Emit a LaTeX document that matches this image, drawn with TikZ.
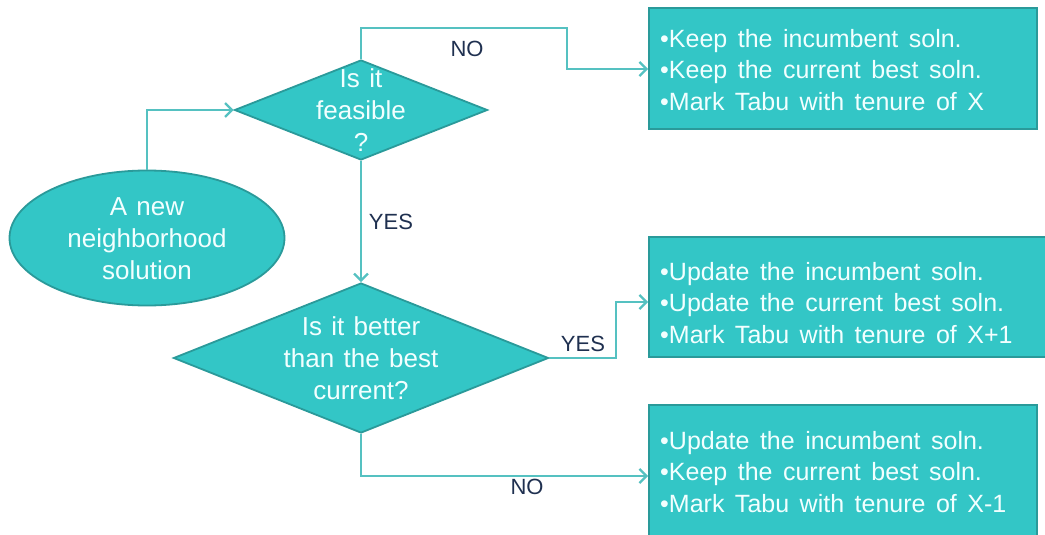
\documentclass[tikz,border=0pt]{standalone}
\usepackage{fontspec}
\setmainfont{Liberation Sans}
\usetikzlibrary{shapes.geometric,arrows.meta}
\definecolor{tealfill}{HTML}{33C6C6}
\definecolor{tealedge}{HTML}{2A9A9A}
\definecolor{tealline}{HTML}{55C1C1}
\definecolor{navy}{HTML}{1F3050}
\definecolor{shapetext}{HTML}{F2FFFF}
\newcommand{\myboxfont}{\fontsize{25}{31.5}\selectfont\spaceskip=0.42em plus 0.1em\relax}
\newcommand{\myshapefont}{\fontsize{26}{32}\selectfont\spaceskip=0.36em plus 0.1em\relax}
\tikzset{
  shapebase/.style={fill=tealfill,draw=tealedge,line width=1.8pt,inner sep=0pt},
  ellnode/.style={shapebase,ellipse,minimum width=275pt,minimum height=135pt},
  dianode/.style={shapebase,diamond},
  boxnode/.style={shapebase,rectangle,minimum width=#1,anchor=north west},
  shapelabel/.style={text=shapetext,align=center,font=\myshapefont},
  boxtext/.style={text=shapetext,align=left,anchor=west,inner sep=0pt,font=\myboxfont},
  conn/.style={draw=tealline,line width=2.6pt,-{Straight Barb[length=7pt,width=14pt,line width=2.2pt]}},
  lbl/.style={text=navy,font=\fontsize{22}{24}\selectfont,inner sep=0pt}
}
\begin{document}
\begin{tikzpicture}[x=1pt,y=-1pt]
\useasboundingbox[fill=white] (0,0) rectangle (1045,535);
% shapes
\node[ellnode] (ell) at (147,238) {};
\node[shapelabel] (elltext) at (147,239) {A new\\neighborhood\\solution};
\node[dianode,minimum width=253pt,minimum height=100pt] (d1) at (361,110) {};
\node[shapelabel] (d1text) at (361,110) {Is it\\feasible\\?};
\node[dianode,minimum width=375pt,minimum height=150pt] (d2) at (361,358) {};
\node[shapelabel] (d2text) at (361,358) {Is it better\\than the best\\current?};
% boxes
\node[boxnode=388pt,minimum height=121pt] (b1) at (648,7) {};
\node[boxnode=398pt,minimum height=120pt] (b2) at (648,236) {};
\node[boxnode=388pt,minimum height=133pt] (b3) at (648,404) {};
\node[boxtext] (b1text) at (660,70) {•Keep the incumbent soln.\\•Keep the current best soln.\\•Mark Tabu with tenure of X};
\node[boxtext] (b2text) at (660,303) {•Update the incumbent soln.\\•Update the current best soln.\\•Mark Tabu with tenure of X+1};
\node[boxtext] (b3text) at (660,472) {•Update the incumbent soln.\\•Keep the current best soln.\\•Mark Tabu with tenure of X-1};
% helper coordinates
\coordinate (k1) at (567,28);
\coordinate (k2) at (616,358);
\coordinate (k3) at (361,476);
% connectors
\draw[conn] (ell.north) |- (d1.west);
\draw[conn] (d1.north) |- (k1) |- (b1.west |- 0,69);
\draw[conn] (d1.south) -- (d2.north);
\draw[conn] (d2.east) -- (k2) |- (b2.west |- 0,302);
\draw[conn] (d2.south) -- (k3) -- (b3.west |- k3);
% labels
\node[lbl] (lno1) at (467,49) {NO};
\node[lbl] (lyes1) at (391,222) {YES};
\node[lbl] (lyes2) at (583,344) {YES};
\node[lbl] (lno2) at (527,487) {NO};
\end{tikzpicture}
\end{document}
